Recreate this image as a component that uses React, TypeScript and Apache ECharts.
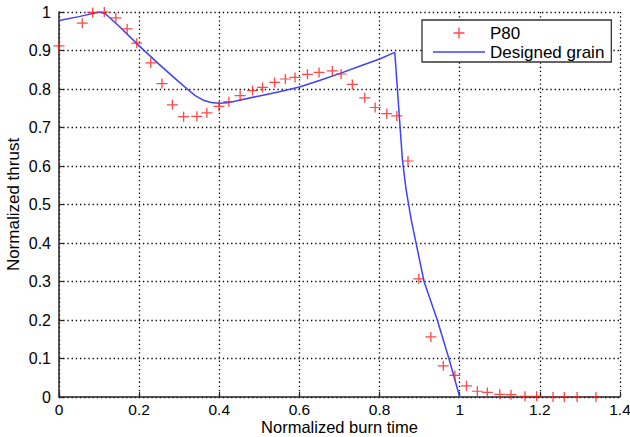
import React, { useEffect, useRef } from "react";
import * as echarts from "echarts";

// P80 measured thrust (normalized)
const p80Time = [
  0.0, 0.058, 0.084, 0.113, 0.142, 0.17, 0.194, 0.229, 0.257, 0.283, 0.311,
  0.344, 0.369, 0.399, 0.424, 0.452, 0.483, 0.508, 0.538, 0.565, 0.589, 0.62,
  0.649, 0.682, 0.704, 0.732, 0.763, 0.789, 0.818, 0.843, 0.871, 0.898, 0.928,
  0.959, 0.988, 1.017, 1.044, 1.069, 1.1, 1.128, 1.163, 1.192, 1.233, 1.261,
  1.293, 1.34,
];
const p80Thrust = [
  0.912, 0.971, 0.999, 1.0, 0.985, 0.956, 0.919, 0.868, 0.814, 0.759, 0.728,
  0.729, 0.738, 0.755, 0.767, 0.783, 0.796, 0.804, 0.817, 0.826, 0.83, 0.838,
  0.843, 0.847, 0.839, 0.812, 0.777, 0.752, 0.736, 0.73, 0.613, 0.307, 0.156,
  0.081, 0.056, 0.029, 0.015, 0.012, 0.007, 0.006, 0.002, 0.002, 0.0, 0.0,
  0.0, 0.0,
];

// Designed grain curve
const grainTime = [
  0.0, 0.05, 0.1, 0.115, 0.15, 0.2, 0.25, 0.3, 0.32, 0.34, 0.36, 0.38, 0.4,
  0.42, 0.45, 0.5, 0.55, 0.6, 0.65, 0.7, 0.75, 0.8, 0.838, 0.857, 0.866,
  0.879, 0.911, 0.944, 0.973, 1.0,
];
const grainThrust = [
  0.978, 0.988, 1.0, 0.996, 0.963, 0.912, 0.864, 0.818, 0.8, 0.783, 0.771,
  0.765, 0.763, 0.764, 0.771, 0.782, 0.793, 0.805, 0.822, 0.84, 0.859, 0.878,
  0.895, 0.616, 0.54, 0.46, 0.3, 0.2, 0.1, 0.0,
];

const seriesNames = ["P80", "Designed grain"];
const xAxisTitle = "Normalized burn time";
const yAxisTitle = "Normalized thrust";

const PLUS = "path://M4.4,0h1.2v10h-1.2z M0,4.4h10v1.2h-10z";
const LINE_ICON = "path://M0,0h52v1.4h-52z";

export default function App() {
  const ref = useRef<HTMLDivElement>(null);
  useEffect(() => {
    const chart = echarts.init(ref.current!, null, { renderer: "svg" });
    const font = "'Liberation Sans', Arial, sans-serif";
    const axisColor = "#262626";
    const makeGrid = () => ({
      show: true,
      lineStyle: { color: "#000", width: 1.3, type: [1.3, 2.9] },
    });
    chart.setOption({
      animation: false,
      backgroundColor: "#fff",
      textStyle: { fontFamily: font },
      grid: { left: 59, right: 10, top: 12, bottom: 40, containLabel: false, outerBoundsMode: "none" },
      xAxis: {
        type: "value",
        min: 0,
        max: 1.4,
        interval: 0.2,
        name: xAxisTitle,
        nameLocation: "middle",
        nameGap: 22,
        nameMoveOverlap: false,
        nameTextStyle: { fontSize: 16.5, color: "#000", fontFamily: font, lineHeight: 16 },
        axisLine: { show: true, onZero: false, lineStyle: { color: axisColor, width: 1.5 } },
        axisTick: { show: true, inside: true, length: 5, lineStyle: { color: axisColor, width: 1.2 } },
        axisLabel: { fontSize: 15.5, color: "#000", margin: 5, fontFamily: font, lineHeight: 15 },
        splitLine: makeGrid(),
      },
      yAxis: {
        type: "value",
        min: 0,
        max: 1,
        interval: 0.1,
        name: yAxisTitle,
        nameLocation: "middle",
        nameGap: 37,
        nameMoveOverlap: false,
        nameTextStyle: { fontSize: 17, color: "#000", fontFamily: font },
        axisLine: { show: true, onZero: false, lineStyle: { color: axisColor, width: 1.5 } },
        axisTick: { show: true, inside: true, length: 5, lineStyle: { color: axisColor, width: 1.2 } },
        axisLabel: { fontSize: 16, color: "#000", margin: 8, fontFamily: font },
        splitLine: makeGrid(),
      },
      legend: {
        show: true,
        orient: "vertical",
        left: 422,
        top: 20,
        data: [
          { name: seriesNames[0] },
          { name: seriesNames[1], icon: LINE_ICON },
        ],
        itemWidth: 52,
        itemHeight: 11,
        itemGap: 1,
        padding: [4, 7, 1, 11],
        backgroundColor: "#fff",
        borderColor: "#333",
        borderWidth: 1.3,
        borderRadius: 0,
        textStyle: { fontSize: 17, color: "#000", fontFamily: font, lineHeight: 18 },
      },
      series: [
        {
          name: seriesNames[0],
          type: "scatter",
          data: p80Time.map((t, i) => [t, p80Thrust[i]]),
          symbol: PLUS,
          symbolSize: [11, 10],
          itemStyle: { color: "#ff1a1a" },
          z: 3,
        },
        {
          name: seriesNames[1],
          type: "line",
          data: grainTime.map((t, i) => [t, grainThrust[i]]),
          symbol: "none",
          lineStyle: { color: "#4040ff", width: 1.5 },
          itemStyle: { color: "#4040ff" },
          z: 2,
        },
      ],
    });
    return () => chart.dispose();
  }, []);
  return (
    <div
      ref={ref}
      style={{ position: "fixed", left: 0, top: 0, width: 630, height: 437 }}
    />
  );
}
